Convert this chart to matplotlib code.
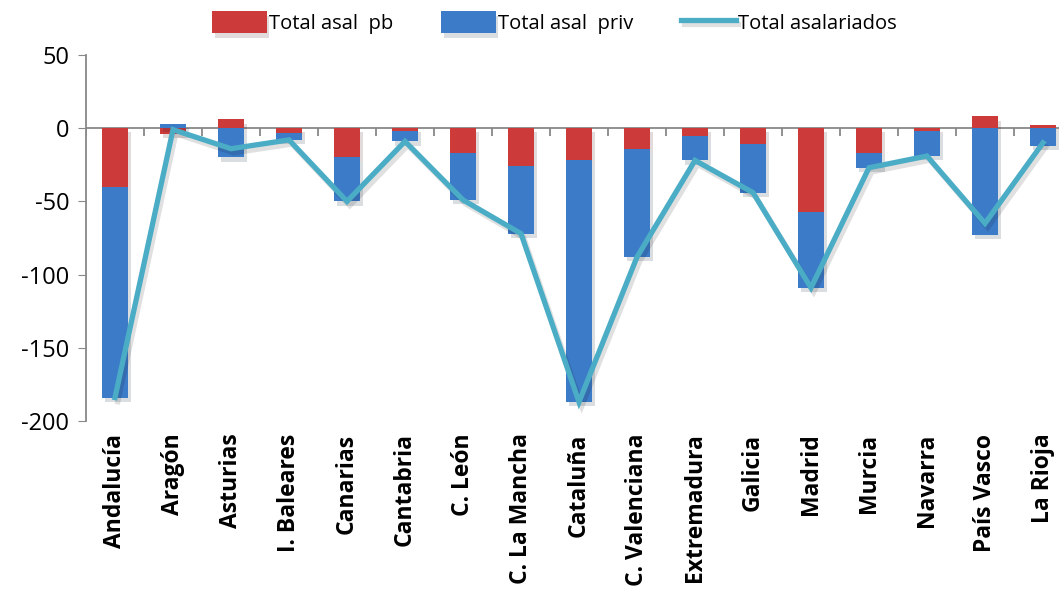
import numpy as np
import matplotlib
matplotlib.use('Agg')
import matplotlib.pyplot as plt
import matplotlib.patheffects as pe

# datos por comunidad
regiones = ['Andalucía', 'Aragón', 'Asturias', 'I. Baleares', 'Canarias', 'Cantabria',
            'C. León', 'C. La Mancha', 'Cataluña', 'C. Valenciana', 'Extremadura',
            'Galicia', 'Madrid', 'Murcia', 'Navarra', 'País Vasco', 'La Rioja']
asal_pb = np.array([-40, -4, 6, -3, -20, -2, -17, -26, -22, -14, -5, -11, -57, -17, -2, 8, 2])
asal_priv = np.array([-144, 3, -20, -5, -30, -7, -32, -46, -165, -74, -17, -33, -52, -10, -17, -73, -12])
total_asal = np.array([-184, -1, -14, -8, -50, -9, -49, -72, -187, -88, -22, -44, -109, -27, -19, -65, -10])

plt.rcParams['font.family'] = ['Open Sans', 'DejaVu Sans']
plt.rcParams['axes.unicode_minus'] = False

fig = plt.figure(figsize=(10.59, 5.93), dpi=100)
# el eje sale un poco por la derecha, como en el original
ax = fig.add_axes([86/1059, 1-421/593, 986/1059, 366/593])

x = np.arange(len(regiones))
ancho = 0.45
rojo = '#CC3B39'
azul = '#3C7BC8'
linea = '#4BACC6'
gris = '#888888'
sombra = [pe.SimplePatchShadow(offset=(2, -3), alpha=0.15), pe.Normal()]

# la parte privada se apila sobre la pública sólo si tienen el mismo signo
base_priv = np.where(np.sign(asal_priv) == np.sign(asal_pb), asal_pb, 0)

b1 = ax.bar(x, asal_pb, ancho, color=rojo, linewidth=0, label='Total asal  pb', zorder=2)
b2 = ax.bar(x, asal_priv, ancho, bottom=base_priv, color=azul, linewidth=0,
            label='Total asal  priv', zorder=2)
for p in list(b1) + list(b2):
    p.set_path_effects(sombra)
l1, = ax.plot(x, total_asal, color=linea, linewidth=3.8, label='Total asalariados',
              zorder=3, solid_joinstyle='miter',
              path_effects=[pe.SimpleLineShadow(offset=(2, -3), alpha=0.12), pe.Normal()])

ax.set_xlim(-0.5, len(regiones) - 0.5)
ax.set_ylim(-200, 50)
ax.set_yticks([50, 0, -50, -100, -150, -200])
ax.tick_params(axis='y', labelsize=17, length=6, color=gris, pad=6)

ax.spines['top'].set_visible(False)
ax.spines['right'].set_visible(False)
ax.spines['bottom'].set_visible(False)
ax.spines['left'].set_color(gris)
ax.spines['left'].set_linewidth(1.3)

# etiquetas abajo, giradas
ax.set_xticks(x)
ax.set_xticklabels(regiones, rotation=90, fontsize=16.5, fontweight='bold', va='top')
ax.tick_params(axis='x', length=0, pad=9)

# eje en el cero con marcas entre categorías (hacia abajo)
ax.axhline(0, color=gris, linewidth=1.3, zorder=1)
ax.vlines(np.arange(len(regiones) + 1) - 0.5, -5, 0, color=gris, linewidth=1.3, zorder=1)

ax.legend(handles=[b1, b2, l1], loc='lower center', bbox_to_anchor=(0.475, 1.035),
          ncol=3, frameon=False, fontsize=14.5, handlelength=2.7, handleheight=1.3,
          columnspacing=2.4, handletextpad=0.1, borderaxespad=0)

fig.savefig('out.png', dpi=100)
